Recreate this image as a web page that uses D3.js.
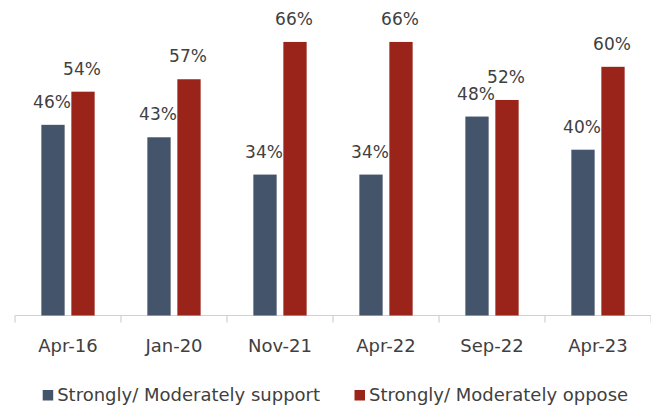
<!DOCTYPE html>
<html>
<head>
<meta charset="utf-8">
<script src="https://cdn.jsdelivr.net/npm/d3@7"></script>
<style>
  html, body { margin: 0; padding: 0; background: #fff; }
  svg { display: block; }
</style>
</head>
<body>
<svg id="chart" width="651" height="408"></svg>
<script>
const categories = ["Apr-16", "Jan-20", "Nov-21", "Apr-22", "Sep-22", "Apr-23"];
const supportValues = [46, 43, 34, 34, 48, 40];
const opposeValues = [54, 57, 66, 66, 52, 60];
const seriesNames = ["Strongly/ Moderately support", "Strongly/ Moderately oppose"];
const seriesColors = ["#44546A", "#9A2419"];

const svg = d3.select("#chart");
const font = "DejaVu Sans, sans-serif";
const textColor = "#404040";

const x = d3.scaleBand().domain(categories).range([15, 651]).paddingInner(0).paddingOuter(0);
const y = d3.scaleLinear().domain([0, 76]).range([315.5, 0.5]);

const barW = 23.3, gap = 6.7;
const series = [supportValues, opposeValues];

// Axis
const axisG = svg.append("g").attr("transform", `translate(0,${y(0)})`);
axisG.append("line")
  .attr("x1", x.range()[0]).attr("x2", x.range()[1])
  .attr("y1", 0).attr("y2", 0)
  .attr("stroke", "#d0d0d0").attr("stroke-width", 1.2);
const tickPos = categories.map(c => x(c)).concat([x.range()[1]]);
axisG.selectAll("line.tick").data(tickPos).enter().append("line")
  .attr("class", "tick")
  .attr("x1", d => d).attr("x2", d => d)
  .attr("y1", 0).attr("y2", 7)
  .attr("stroke", "#d0d0d0").attr("stroke-width", 1.2);
axisG.selectAll("text").data(categories).enter().append("text")
  .attr("x", d => x(d) + x.bandwidth() / 2)
  .attr("y", 36)
  .attr("text-anchor", "middle")
  .attr("font-family", font).attr("font-size", 18)
  .attr("fill", textColor)
  .text(d => d);

// Bars
series.forEach((vals, si) => {
  const offset = si === 0 ? -(gap / 2 + barW) : gap / 2;
  const g = svg.append("g");
  g.selectAll("rect").data(vals).enter().append("rect")
    .attr("x", (d, i) => x(categories[i]) + x.bandwidth() / 2 + offset)
    .attr("y", d => y(d))
    .attr("width", barW)
    .attr("height", d => y(0) - y(d))
    .attr("fill", seriesColors[si]);
  g.selectAll("text").data(vals).enter().append("text")
    .attr("x", (d, i) => x(categories[i]) + x.bandwidth() / 2 + offset + barW / 2 - 1)
    .attr("y", d => y(d) - 17)
    .attr("text-anchor", "middle")
    .attr("font-family", font).attr("font-size", 17)
    .attr("fill", textColor)
    .text(d => d + "%");
});

// Legend
const legendX = [42.7, 354.5];
const legend = svg.append("g");
seriesNames.forEach((name, i) => {
  legend.append("rect")
    .attr("x", legendX[i]).attr("y", 390)
    .attr("width", 10.5).attr("height", 10.5)
    .attr("fill", seriesColors[i]);
  legend.append("text")
    .attr("x", legendX[i] + 14.5).attr("y", 401)
    .attr("font-family", font).attr("font-size", 18)
    .attr("fill", textColor)
    .text(name);
});
</script>
</body>
</html>
